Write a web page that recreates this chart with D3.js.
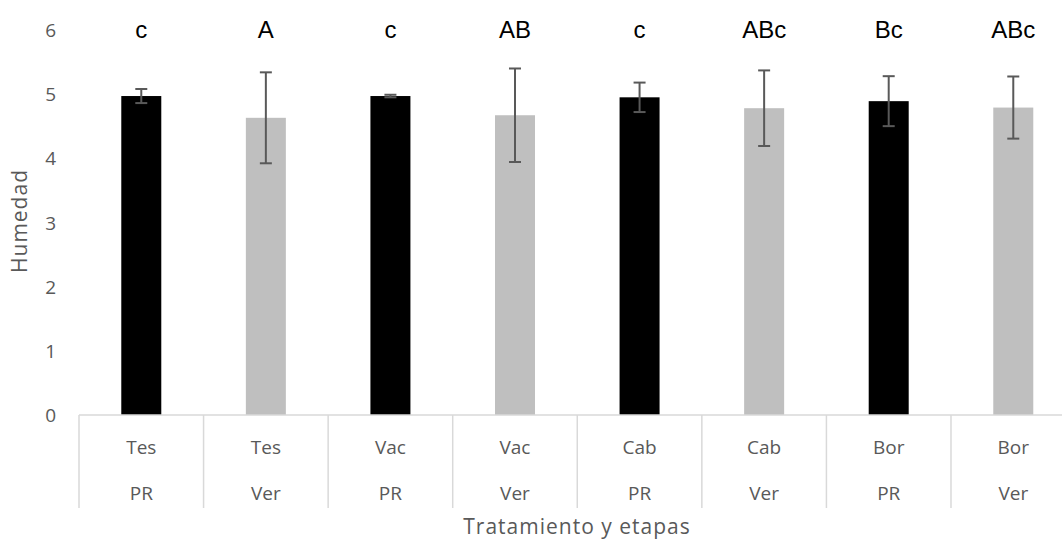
<!DOCTYPE html>
<html><head><meta charset="utf-8">
<script src="https://cdn.jsdelivr.net/npm/d3@7/dist/d3.min.js"></script>
<style>body{margin:0;background:#fff}svg{display:block}</style>
</head><body>
<script>
const treatments = ["Tes","Tes","Vac","Vac","Cab","Cab","Bor","Bor"];
const stages = ["PR","Ver","PR","Ver","PR","Ver","PR","Ver"];
const values = [4.98,4.64,4.98,4.68,4.96,4.79,4.90,4.80];
const errors = [0.11,0.71,0.02,0.73,0.23,0.59,0.39,0.485];
const letters = ["c","A","c","AB","c","ABc","Bc","ABc"];
const yTicks = [0,1,2,3,4,5,6];

const W=1062,H=540;
const svg=d3.select("body").append("svg").attr("width",W).attr("height",H);
const x0=79, bw=124.57, y0=415, unit=64.05;
const idx=d3.range(values.length);
const x=d3.scaleBand().domain(idx).range([x0,x0+bw*values.length]).paddingInner(0).paddingOuter(0);
const y=d3.scaleLinear().domain([0,6]).range([y0,y0-6*unit]);
const barW=40;
const grey="#595959";

// y tick labels
svg.append("g").selectAll("text").data(yTicks).join("text")
  .attr("x",56).attr("y",d=>y(d)).attr("dy","0.35em").attr("text-anchor","end")
  .attr("font-family","Open Sans, sans-serif").attr("font-size",19).attr("fill",grey).text(d=>d);

// bars
svg.append("g").selectAll("rect").data(idx).join("rect")
  .attr("x",i=>x(i)+x.bandwidth()/2-barW/2).attr("width",barW)
  .attr("y",i=>y(values[i])).attr("height",i=>y(0)-y(values[i]))
  .attr("fill",i=>stages[i]==="PR"?"#000000":"#bfbfbf");

// error bars
const eg=svg.append("g").attr("stroke","#595959").attr("stroke-width",2);
idx.forEach(i=>{
  const cx=x(i)+x.bandwidth()/2;
  const t=y(values[i]+errors[i]), b=y(values[i]-errors[i]);
  eg.append("line").attr("x1",cx).attr("x2",cx).attr("y1",t).attr("y2",b);
  eg.append("line").attr("x1",cx-6).attr("x2",cx+6).attr("y1",t).attr("y2",t);
  eg.append("line").attr("x1",cx-6).attr("x2",cx+6).attr("y1",b).attr("y2",b);
});

// axis line
svg.append("line").attr("x1",x0).attr("x2",x0+bw*values.length).attr("y1",y0).attr("y2",y0)
  .attr("stroke","#d9d9d9").attr("stroke-width",1.5);
// separators
svg.append("g").selectAll("line").data(d3.range(values.length+1)).join("line")
  .attr("x1",i=>x0+i*bw).attr("x2",i=>x0+i*bw).attr("y1",y0).attr("y2",508)
  .attr("stroke","#d9d9d9").attr("stroke-width",1.5);

// category labels
const lab=svg.append("g").attr("font-family","Open Sans, sans-serif").attr("font-size",19).attr("fill",grey).attr("text-anchor","middle");
idx.forEach(i=>{
  const cx=x(i)+x.bandwidth()/2;
  lab.append("text").attr("x",cx).attr("y",447).attr("dy","0.35em").text(treatments[i]);
  lab.append("text").attr("x",cx).attr("y",493).attr("dy","0.35em").text(stages[i]);
});

// letters
svg.append("g").selectAll("text").data(idx).join("text")
  .attr("x",i=>x(i)+x.bandwidth()/2).attr("y",30).attr("dy","0.35em").attr("text-anchor","middle")
  .attr("font-family","Liberation Sans, Arial, sans-serif").attr("font-size",24).attr("fill","#000")
  .text(i=>letters[i]);

// axis titles
svg.append("text").attr("x",577).attr("y",527).attr("dy","0.35em").attr("text-anchor","middle")
  .attr("font-family","Open Sans, sans-serif").attr("font-size",21).attr("letter-spacing",1).attr("fill",grey).text("Tratamiento y etapas");
svg.append("text").attr("transform","translate(20,221) rotate(-90)").attr("dy","0.35em").attr("text-anchor","middle")
  .attr("font-family","Open Sans, sans-serif").attr("font-size",21).attr("letter-spacing",1).attr("fill",grey).text("Humedad");
</script>
</body></html>
